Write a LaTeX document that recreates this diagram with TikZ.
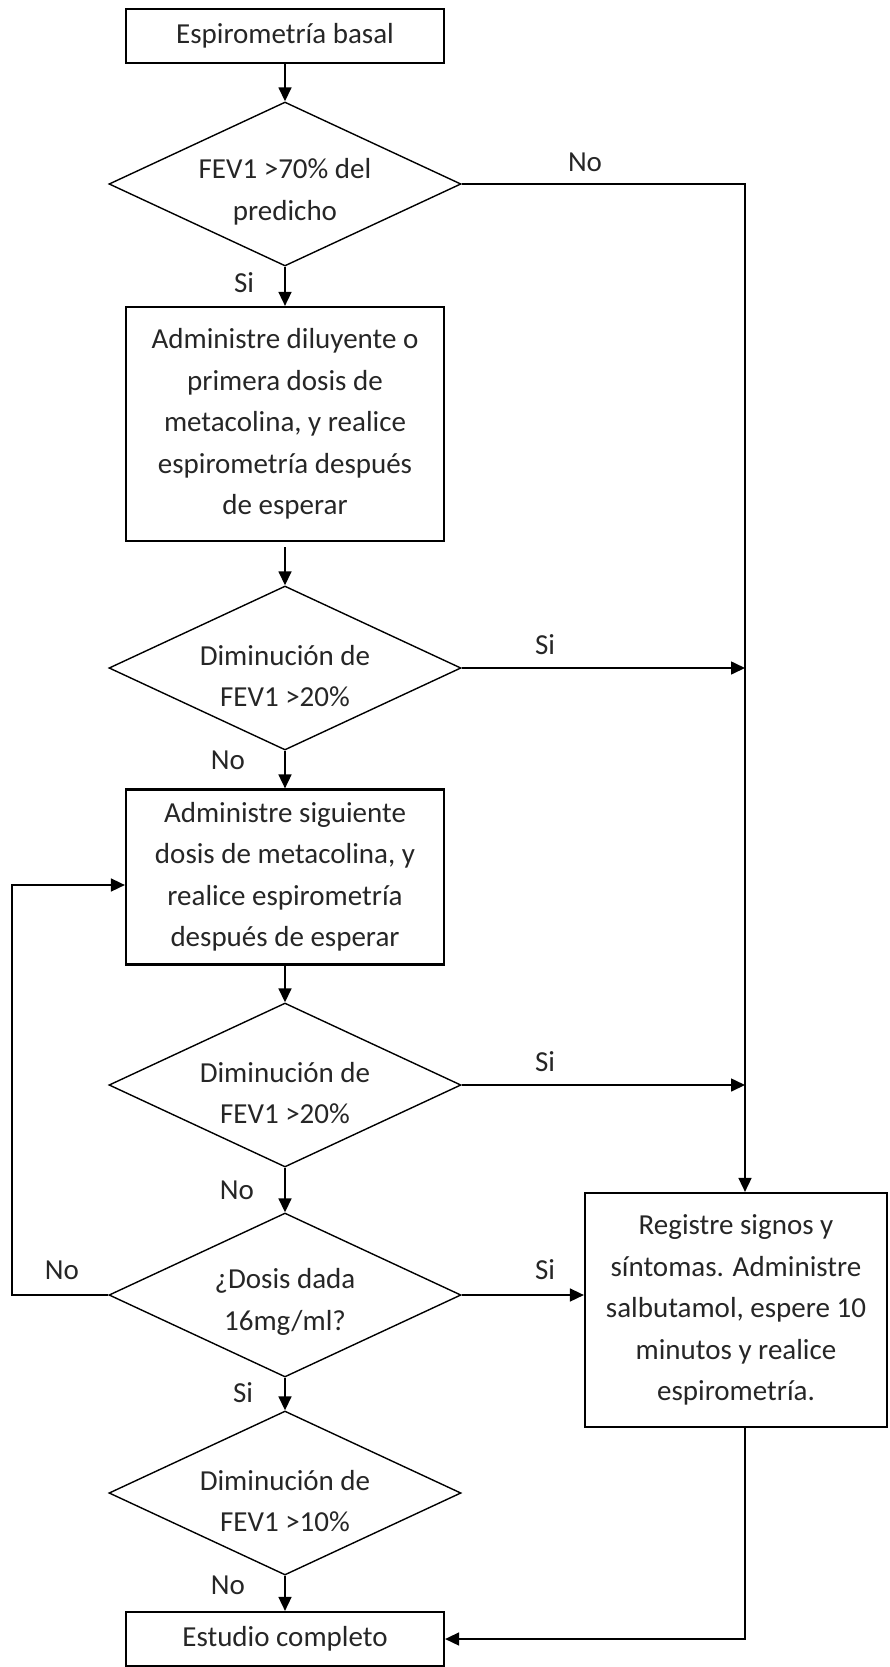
\documentclass[tikz,border=0pt]{standalone}
\usepackage{fontspec}
\setmainfont{Carlito}
\usetikzlibrary{positioning,arrows.meta,calc,shapes.geometric}
\newcommand{\flowfont}{\fontsize{29}{41.5}\selectfont}

\begin{document}
\begin{tikzpicture}[x=1pt,y=-1pt,>={Triangle[length=14pt,width=13pt]},
  blk/.style={draw,line width=2.2pt,minimum width=318pt,inner sep=0pt,align=center,font=\flowfont,text=black!85},
  dec/.style={diamond,draw,line width=1.4pt,minimum width=352pt,minimum height=164pt,inner sep=0pt},
  dtxt/.style={align=center,inner sep=0pt,font=\flowfont,text=black!85},
  lab/.style={inner sep=0pt,font=\flowfont,text=black!85},
  con/.style={->,line width=1.6pt}]
\useasboundingbox (0,0) rectangle (890,1667);
% main column
\node[blk,minimum height=54pt] (b1) at (285,36) {Espirometría basal};
\node[dec] (d1) at (285,184) {};
\node[dtxt] (t1) at ($(d1)+(0,8)$) {FEV1 >70\% del\\predicho};
\node[blk,minimum height=234pt] (b2) at (285,424) {Administre diluyente o\\primera dosis de\\metacolina, y realice\\espirometría después\\de esperar};
\node[dec] (d2) at (285,668) {};
\node[dtxt] (t2) at ($(d2)+(0,8)$) {Diminución de\\FEV1 >20\%};
\node[blk,minimum height=175pt] (b3) at (285,877) {Administre siguiente\\dosis de metacolina, y\\realice espirometría\\después de esperar};
\node[dec] (d3) at (285,1085) {};
\node[dtxt] (t3) at ($(d3)+(0,8)$) {Diminución de\\FEV1 >20\%};
\node[dec] (d4) at (285,1295) {};
\node[dtxt] (t4) at ($(d4)+(0,7)$) {¿Dosis dada\\16mg/ml?};
\node[dec] (d5) at (285,1493) {};
\node[dtxt] (t5) at ($(d5)+(0,8)$) {Diminución de\\FEV1 >10\%};
\node[blk,minimum height=54pt] (b4) at (285,1639) {Estudio completo};
% right side
\node[blk,minimum width=302pt,minimum height=234pt] (b5) at (736,1310) {Registre signos y\\síntomas. Administre\\salbutamol, espere 10\\minutos y realice\\espirometría.};
\coordinate (rail) at (745,184);
\coordinate (loop) at (12,885);
% connectors
\draw[con] (b1) -- (d1);
\draw[con] (d1) -- (b2);
\draw[con,shorten <=5pt] (b2) -- (d2);
\draw[con] (d2) -- (b3);
\draw[con] (b3) -- (d3);
\draw[con] (d3) -- (d4);
\draw[con] (d4) -- (d5);
\draw[con] (d5) -- (b4);
\draw[con] (d1.east) -- (rail) -- (rail |- b5.north);
\foreach \d in {d2,d3} \draw[con] (\d.east) -- (\d.east -| rail);
\draw[con] (d4.east) -- (d4.east -| b5.west);
\draw[con] (d4.west) -| (loop) -- (loop -| b3.west);
\draw[con] (b5.south -| rail) |- (b4.east);
% branch labels
\node[lab] (n1) at (585,162) {No};
\node[lab] (s1) at (244,283) {Si};
\node[lab] (s2) at (545,645) {Si};
\node[lab] (n2) at (228,760) {No};
\node[lab] (s3) at (545,1062) {Si};
\node[lab] (n3) at (237,1190) {No};
\node[lab] (n4) at (62,1270) {No};
\node[lab] (s4) at (545,1270) {Si};
\node[lab] (s5) at (243,1393) {Si};
\node[lab] (n5) at (228,1585) {No};
\end{tikzpicture}
\end{document}
